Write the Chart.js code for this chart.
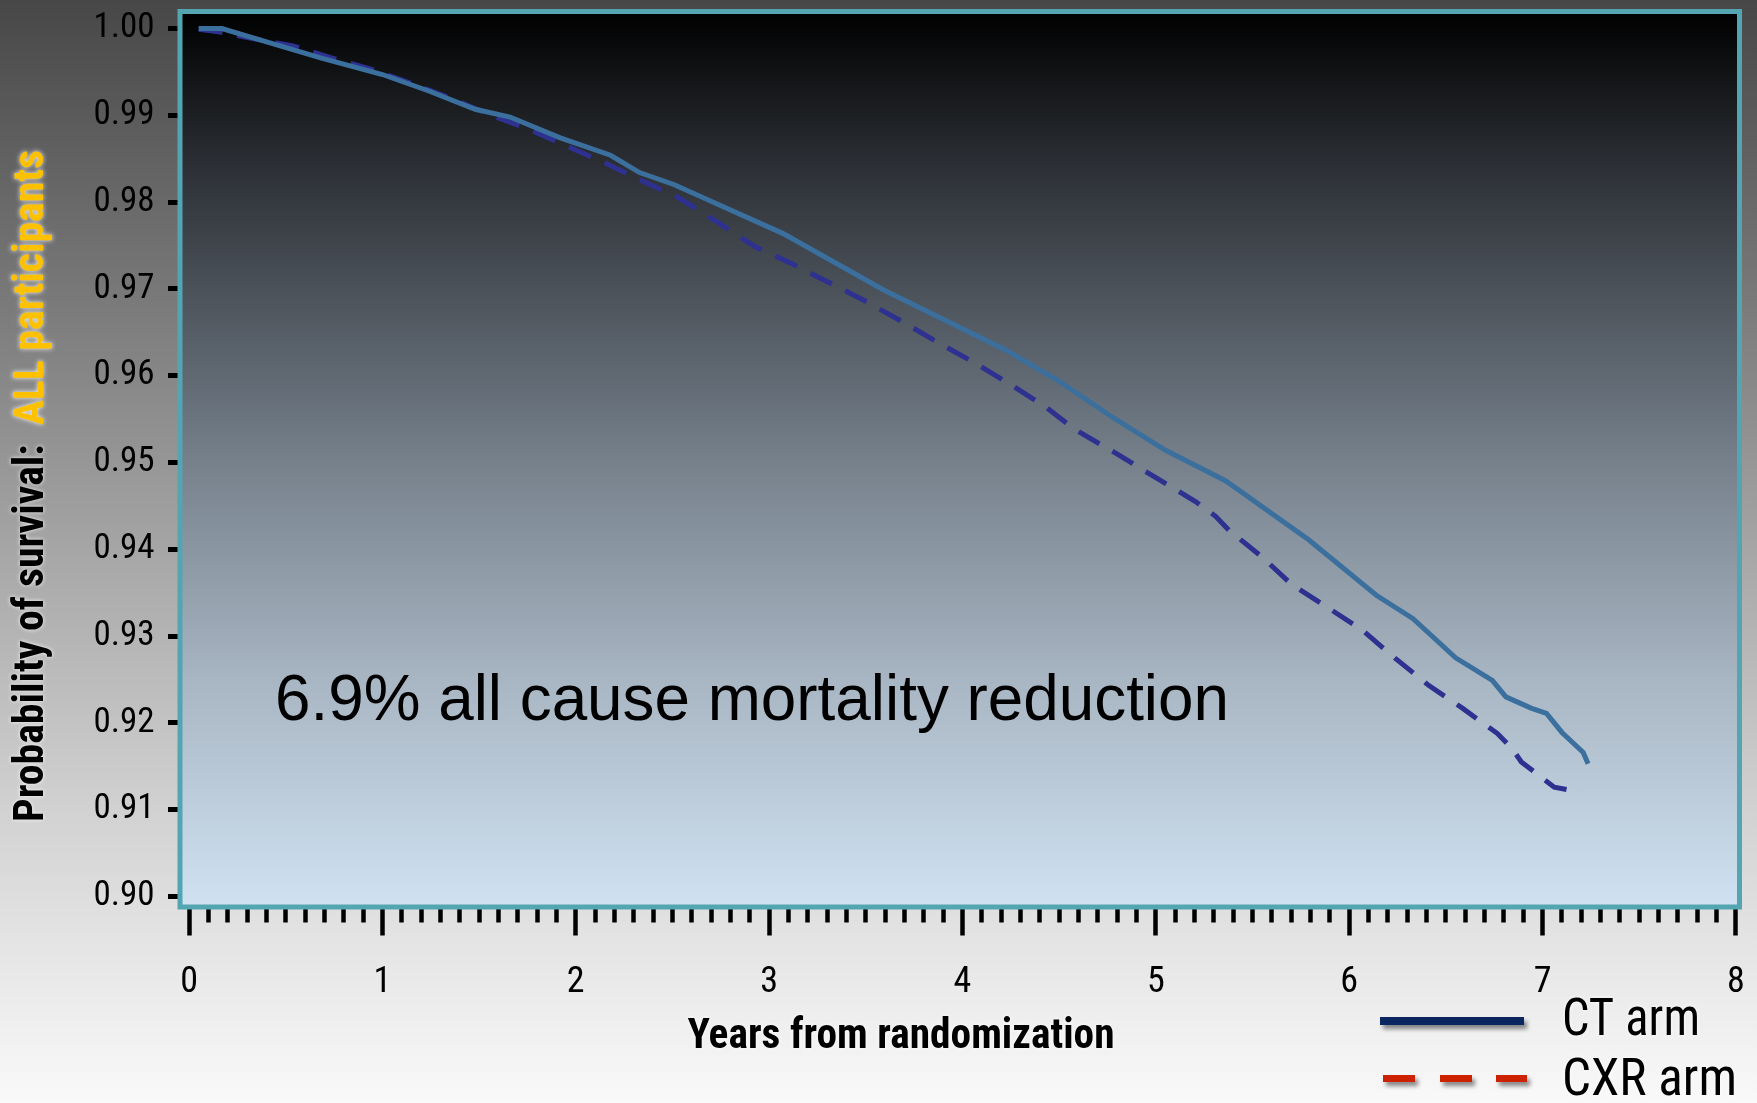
<!DOCTYPE html>
<html>
<head>
<meta charset="utf-8">
<script src="https://cdn.jsdelivr.net/npm/chart.js@4.4.1/dist/chart.umd.min.js"></script>
<style>
  html, body { margin: 0; padding: 0; background: #f8f8f8; }
  #wrap { width: 1757px; height: 1103px; }
  canvas { display: block; }
</style>
</head>
<body>
<div id="wrap"><canvas id="c" width="1757" height="1103"></canvas></div>
<script>
// ---- Data ----
const ctYears = [0.05, 0.17, 0.41, 0.685, 1.00, 1.24, 1.48, 1.66, 1.92, 2.18, 2.33, 2.51, 2.74, 3.07, 3.59, 4.22, 4.49, 4.77, 5.05, 5.36, 5.79, 6.14, 6.33, 6.55, 6.74, 6.81, 6.94, 7.02, 7.10, 7.21, 7.235];
const ctSurvival = [1.0000, 1.0000, 0.9984, 0.9966, 0.9947, 0.9928, 0.9907, 0.9898, 0.9874, 0.9854, 0.9834, 0.9820, 0.9797, 0.9764, 0.9699, 0.9630, 0.9595, 0.9553, 0.9514, 0.9479, 0.9411, 0.9347, 0.9320, 0.9275, 0.9249, 0.9230, 0.9217, 0.9211, 0.9189, 0.9166, 0.9153];

const cxrYears = [0.05, 0.16, 0.315, 0.537, 0.74, 0.944, 1.146, 1.35, 1.553, 1.756, 1.96, 2.163, 2.348, 2.532, 2.739, 2.924, 3.109, 3.312, 3.497, 3.691, 3.875, 4.069, 4.255, 4.43, 4.569, 4.643, 4.79, 4.974, 5.205, 5.309, 5.378, 5.55, 5.705, 5.895, 6.067, 6.24, 6.412, 6.585, 6.765, 6.84, 6.89, 7.06, 7.20];
const cxrSurvival = [0.9999, 0.9996, 0.9989, 0.9980, 0.9966, 0.9953, 0.9937, 0.9920, 0.9901, 0.9884, 0.9864, 0.9844, 0.9824, 0.9805, 0.9776, 0.9749, 0.9730, 0.9707, 0.9686, 0.9662, 0.9638, 0.9614, 0.9589, 0.9564, 0.9540, 0.9530, 0.9511, 0.9486, 0.9455, 0.9438, 0.9422, 0.9391, 0.9359, 0.9332, 0.9307, 0.9274, 0.9243, 0.9217, 0.9188, 0.9171, 0.9155, 0.9126, 0.9120];

const xMajorTicks = [0, 1, 2, 3, 4, 5, 6, 7, 8];
const xMinorPerYear = 10;
const yTicks = [0.90, 0.91, 0.92, 0.93, 0.94, 0.95, 0.96, 0.97, 0.98, 0.99, 1.00];

const seriesLabels = ['CT arm', 'CXR arm'];
const xTitle = 'Years from randomization';
const yTitleMain = 'Probability of survival:  ';
const yTitleHighlight = 'ALL participants';
const annotationText = '6.9% all cause mortality reduction';

// ---- Fonts ----
const REGULAR = "'Liberation Sans', Arial, sans-serif";
const NARROW = "'Roboto Condensed', 'Liberation Sans Narrow', 'Liberation Sans', sans-serif";

const xTickValues = [];
for (let i = 0; i < xMajorTicks.length - 1; i++) {
  for (let k = 0; k < xMinorPerYear; k++) xTickValues.push(Math.round((xMajorTicks[i] + k / xMinorPerYear) * 1000) / 1000);
}
xTickValues.push(xMajorTicks[xMajorTicks.length - 1]);
const isMajor = v => xMajorTicks.some(m => Math.abs(m - v) < 1e-6);

const bgPlugin = {
  id: 'bg',
  beforeDraw(chart) {
    const { ctx, width, height, chartArea: a } = chart;
    ctx.save();
    const g = ctx.createLinearGradient(0, 0, 0, height);
    g.addColorStop(0, '#474747');
    g.addColorStop(0.28, '#7b7b7b');
    g.addColorStop(0.5, '#a6a6a6');
    g.addColorStop(0.72, '#cfcfcf');
    g.addColorStop(0.88, '#e8e8e8');
    g.addColorStop(1, '#f9f9f9');
    ctx.fillStyle = g;
    ctx.fillRect(0, 0, width, height);
    const g2 = ctx.createLinearGradient(0, a.top, 0, a.bottom);
    g2.addColorStop(0, '#000000');
    g2.addColorStop(0.19, '#30343a');
    g2.addColorStop(0.5, '#75808b');
    g2.addColorStop(0.75, '#a9b6c3');
    g2.addColorStop(1, '#d0e2f2');
    ctx.fillStyle = g2;
    ctx.fillRect(a.left, a.top, a.right - a.left, a.bottom - a.top);
    ctx.restore();
  }
};

const framePlugin = {
  id: 'frame',
  afterDatasetsDraw(chart) {
    const { ctx, chartArea: a } = chart;
    ctx.save();
    ctx.strokeStyle = '#52a5b1';
    ctx.lineWidth = 5;
    ctx.strokeRect(a.left, a.top, a.right - a.left, a.bottom - a.top);
    ctx.restore();
  }
};

// draw text squeezed horizontally so that it spans targetWidth
function fitText(ctx, text, x, y, align, targetWidth) {
  const w = ctx.measureText(text).width;
  const s = Math.min(1.15, targetWidth / w);
  ctx.save();
  ctx.translate(x, y);
  ctx.scale(s, 1);
  ctx.textAlign = align;
  ctx.fillText(text, 0, 0);
  ctx.restore();
}

const textPlugin = {
  id: 'texts',
  afterDraw(chart) {
    const { ctx } = chart;
    ctx.save();
    ctx.textBaseline = 'alphabetic';
    // annotation
    ctx.fillStyle = '#000';
    ctx.font = `64px ${REGULAR}`;
    fitText(ctx, annotationText, 275, 720, 'left', 954);

    // x title
    ctx.shadowColor = 'rgba(255,255,255,0.9)';
    ctx.shadowBlur = 4;
    ctx.font = `bold 42px ${NARROW}`;
    fitText(ctx, xTitle, 901, 1048, 'center', 427);

    // y title (rotated, two colours)
    ctx.save();
    ctx.translate(43, 822);
    ctx.rotate(-Math.PI / 2);
    ctx.font = `bold 42px ${NARROW}`;
    const w1 = ctx.measureText(yTitleMain).width;
    const w2 = ctx.measureText(yTitleHighlight).width;
    ctx.scale(672 / (w1 + w2), 1);
    ctx.textAlign = 'left';
    ctx.fillStyle = '#000';
    ctx.fillText(yTitleMain, 0, 0);
    ctx.fillStyle = '#fdc100';
    ctx.shadowColor = 'rgba(255,255,255,0.95)';
    ctx.shadowBlur = 5;
    ctx.fillText(yTitleHighlight, w1, 0);
    ctx.restore();

    // legend
    ctx.shadowColor = 'rgba(0,0,0,0.45)';
    ctx.shadowBlur = 4;
    ctx.shadowOffsetX = 3;
    ctx.shadowOffsetY = 4;
    ctx.strokeStyle = '#0b2560';
    ctx.lineWidth = 8;
    ctx.beginPath();
    ctx.moveTo(1380, 1021);
    ctx.lineTo(1524, 1021);
    ctx.stroke();
    ctx.strokeStyle = '#cc2200';
    ctx.lineWidth = 7;
    [[1383, 1415], [1440, 1472], [1496, 1527]].forEach(([x1, x2]) => {
      ctx.beginPath();
      ctx.moveTo(x1, 1078.5);
      ctx.lineTo(x2, 1078.5);
      ctx.stroke();
    });
    ctx.shadowColor = 'rgba(255,255,255,0.9)';
    ctx.shadowOffsetX = 0;
    ctx.shadowOffsetY = 0;
    ctx.shadowBlur = 4;
    ctx.fillStyle = '#000';
    ctx.font = `51px ${NARROW}`;
    fitText(ctx, seriesLabels[0], 1562, 1035, 'left', 138);
    fitText(ctx, seriesLabels[1], 1562, 1095, 'left', 175);
    ctx.restore();
  }
};

const ctx = document.getElementById('c').getContext('2d');
new Chart(ctx, {
  type: 'line',
  data: {
    datasets: [
      {
        label: seriesLabels[0],
        data: ctYears.map((x, i) => ({ x, y: ctSurvival[i] })),
        borderColor: '#3a6f9e',
        borderWidth: 5,
        pointRadius: 0,
        tension: 0,
        fill: false
      },
      {
        label: seriesLabels[1],
        data: cxrYears.map((x, i) => ({ x, y: cxrSurvival[i] })),
        borderColor: '#2e3190',
        borderWidth: 5,
        borderDash: [24, 15],
        borderCapStyle: 'butt',
        pointRadius: 0,
        tension: 0,
        fill: false
      }
    ]
  },
  options: {
    responsive: false,
    animation: false,
    events: [],
    layout: { padding: { top: 11.5, right: 17.5, left: 0, bottom: 0 } },
    plugins: { legend: { display: false }, tooltip: { enabled: false } },
    scales: {
      x: {
        type: 'linear',
        position: 'bottom',
        min: -0.0466,
        max: 8.0181,
        afterBuildTicks: s => { s.ticks = xTickValues.map(v => ({ value: v })); },
        afterFit: s => { s.height = 1103 - 907; s.paddingLeft = 0; s.paddingRight = 0; },
        border: { display: false },
        grid: {
          drawOnChartArea: false,
          drawTicks: true,
          tickLength: 28.5,
          tickWidth: 4.5,
          tickColor: '#000',
          tickBorderDash: c => (c.tick && !isMajor(c.tick.value)) ? [15.5, 200] : []
        },
        ticks: {
          autoSkip: false,
          maxRotation: 0,
          minRotation: 0,
          padding: 26,
          color: '#000',
          font: { family: NARROW, size: 36 },
          callback: v => isMajor(v) ? String(Math.round(v)) : ''
        }
      },
      y: {
        min: 0.89879,
        max: 1.00196,
        afterBuildTicks: s => { s.ticks = yTicks.map(v => ({ value: v })); },
        afterFit: s => { s.width = 180; s.paddingTop = 0; s.paddingBottom = 0; },
        border: { display: false },
        grid: {
          drawOnChartArea: false,
          drawTicks: true,
          tickLength: 12,
          tickWidth: 5,
          tickColor: '#000'
        },
        ticks: {
          padding: 13.5,
          color: '#000',
          font: { family: NARROW, size: 35 },
          callback: v => v.toFixed(2)
        }
      }
    }
  },
  plugins: [bgPlugin, framePlugin, textPlugin]
});
</script>
</body>
</html>
